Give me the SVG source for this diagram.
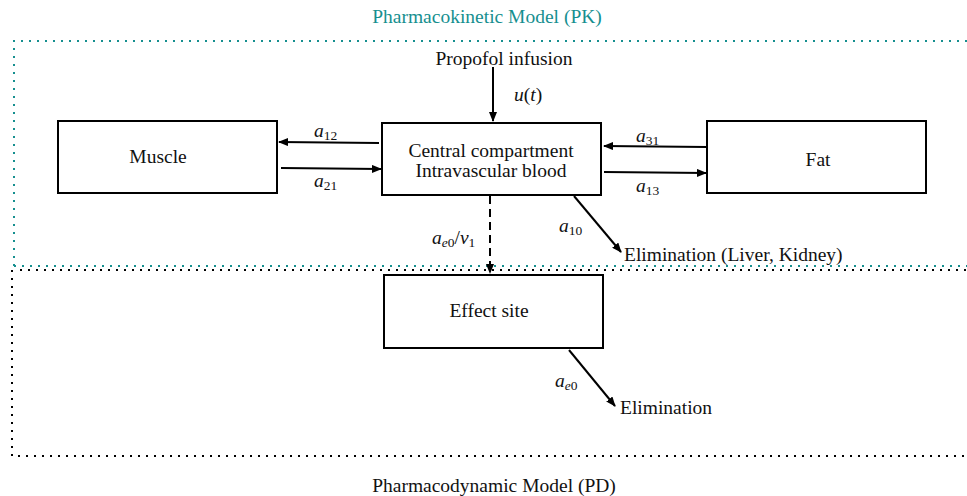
<svg xmlns="http://www.w3.org/2000/svg" width="967" height="496" viewBox="0 0 967 496">
<style>
text{font-family:"Liberation Serif","DejaVu Serif",serif;font-size:19.5px;fill:#111}
.t{text-anchor:middle}
.i{font-style:italic}
.s{font-size:13.5px}
.box{fill:#fff;stroke:#000;stroke-width:2}
.ln{stroke:#000;stroke-width:2;fill:none;marker-end:url(#ah)}
</style>
<defs>
<marker id="ah" viewBox="0 0 10 8" refX="9" refY="4" markerWidth="5" markerHeight="4" orient="auto" markerUnits="strokeWidth">
<path d="M0,0 L10,4 L0,8 Z" fill="#000"/>
</marker>
</defs>
<rect width="967" height="496" fill="#fff"/>
<g id="pk-frame">
<path d="M14,266 V41 H970" fill="none" stroke="#168f8f" stroke-width="2" stroke-dasharray="2 6"/>
<path d="M14,266 H970" fill="none" stroke="#168f8f" stroke-width="2" stroke-dasharray="2 6"/>
<text x="487" y="23" class="t" style="fill:#168f8f">Pharmacokinetic Model (PK)</text>
</g>
<g id="pd-frame">
<path d="M12,270 V456 H970" fill="none" stroke="#000" stroke-width="2" stroke-dasharray="2 6"/>
<path d="M20,270 H970" fill="none" stroke="#000" stroke-width="2" stroke-dasharray="2 6"/>
<text x="494" y="492" class="t">Pharmacodynamic Model (PD)</text>
</g>
<g id="connectors">
<line x1="493" y1="67" x2="493" y2="121" class="ln"/>
<line x1="379" y1="143" x2="279" y2="142" class="ln"/>
<line x1="281" y1="168" x2="381" y2="169" class="ln"/>
<line x1="707" y1="147" x2="604" y2="146" class="ln"/>
<line x1="604" y1="172" x2="706" y2="173" class="ln"/>
<line x1="574" y1="196" x2="621" y2="252" class="ln"/>
<line x1="490" y1="196" x2="490" y2="273" class="ln" stroke-dasharray="8 5"/>
<line x1="569" y1="350" x2="615" y2="406" class="ln"/>
<text x="504" y="65" class="t">Propofol infusion</text>
<text x="514" y="101" class="i">u<tspan style="font-style:normal">(</tspan>t<tspan style="font-style:normal">)</tspan></text>
<text x="314" y="137"><tspan class="i">a</tspan><tspan class="s" dy="3">12</tspan></text>
<text x="314" y="187"><tspan class="i">a</tspan><tspan class="s" dy="3">21</tspan></text>
<text x="636" y="142"><tspan class="i">a</tspan><tspan class="s" dy="3">31</tspan></text>
<text x="636" y="192"><tspan class="i">a</tspan><tspan class="s" dy="3">13</tspan></text>
<text x="559" y="232"><tspan class="i">a</tspan><tspan class="s" dy="3">10</tspan></text>
<text x="432" y="244"><tspan class="i">a</tspan><tspan class="s i" dy="3">e</tspan><tspan class="s">0</tspan><tspan dy="-3">/</tspan><tspan class="i">v</tspan><tspan class="s" dy="3">1</tspan></text>
<text x="555" y="387"><tspan class="i">a</tspan><tspan class="s i" dy="3">e</tspan><tspan class="s">0</tspan></text>
<text x="624" y="261">Elimination (Liver, Kidney)</text>
<text x="620" y="414">Elimination</text>
</g>
<g id="muscle">
<rect x="58" y="121" width="219" height="72" class="box"/>
<text x="158" y="163" class="t">Muscle</text>
</g>
<g id="central">
<rect x="382" y="123" width="219" height="72" class="box"/>
<text x="491" y="157" class="t">Central compartment</text>
<text x="491" y="177" class="t">Intravascular blood</text>
</g>
<g id="fat">
<rect x="707" y="121" width="219" height="72" class="box"/>
<text x="818" y="166" class="t">Fat</text>
</g>
<g id="effect">
<rect x="384" y="275" width="219" height="73" class="box"/>
<text x="489" y="317" class="t">Effect site</text>
</g>
</svg>
